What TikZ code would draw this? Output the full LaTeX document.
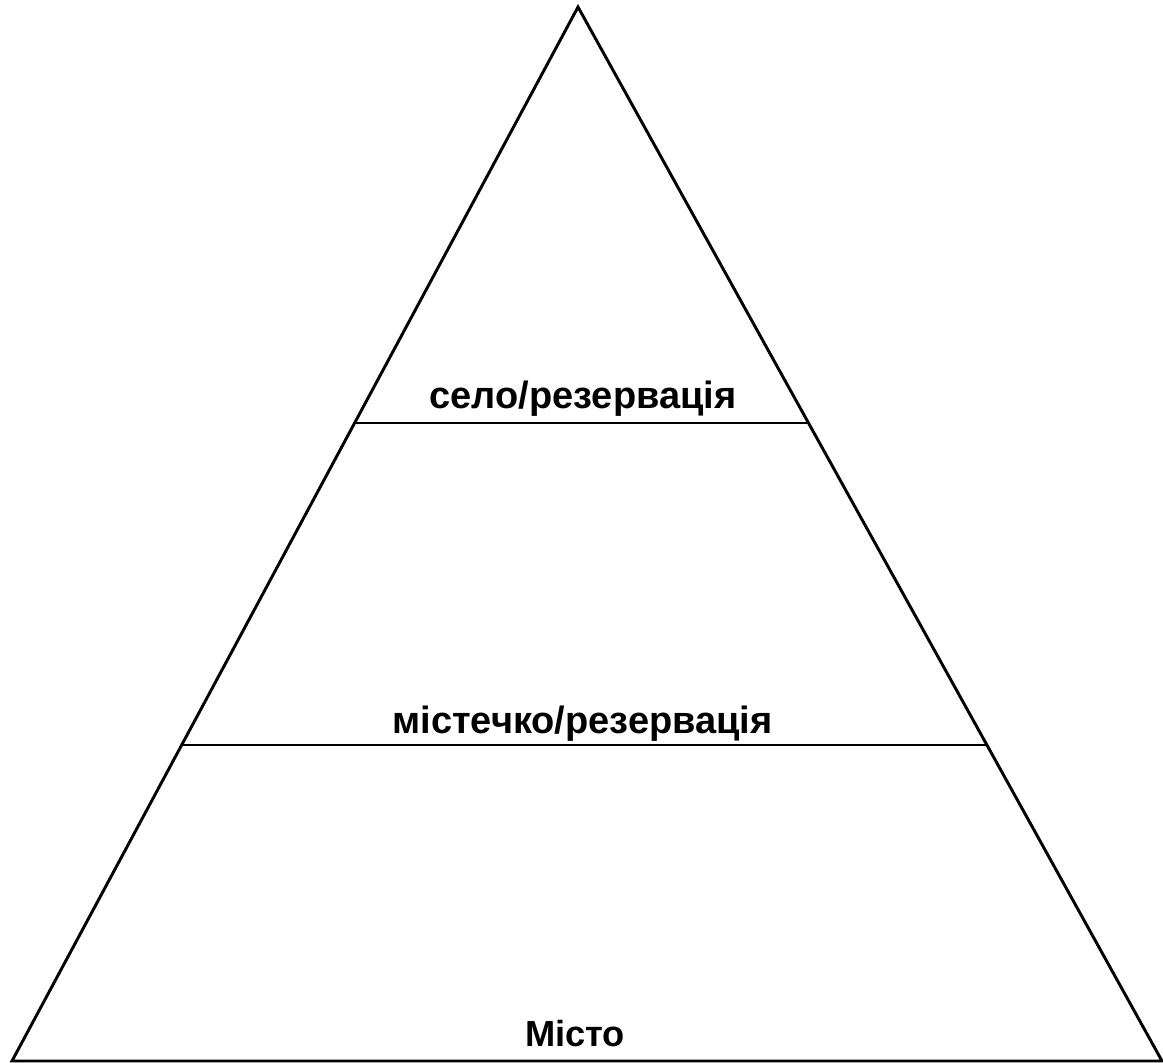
\documentclass[tikz,border=0pt]{standalone}
\usepackage{fontspec}
\setmainfont{Liberation Sans}
\usetikzlibrary{calc}
\begin{document}
\begin{tikzpicture}[x=0.75pt,y=-0.75pt,
  edge/.style={line width=2.2pt,line join=miter},
  band/.style={line width=1.9pt},
  lbl/.style={anchor=base,inner sep=0pt}]
\useasboundingbox (0,0) rectangle (1163,1063);
\coordinate (A) at (578,7);
\coordinate (L) at (12,1061);
\coordinate (R) at (1162,1061);
\draw[edge] (L) -- (A) -- (R) -- cycle;
\coordinate (l1) at ($(A)!0.3947!(L)$);
\coordinate (r1) at ($(A)!0.3947!(R)$);
\coordinate (l2) at ($(A)!0.7002!(L)$);
\coordinate (r2) at ($(A)!0.7002!(R)$);
\draw[band] (l1) -- (r1);
\draw[band] (l2) -- (r2);
\node[lbl,font=\fontsize{28.5}{30}\selectfont\bfseries] (t1) at (583,408) {село/резервація};
\node[lbl,font=\fontsize{28.5}{30}\selectfont\bfseries] (t2) at (582.5,733) {містечко/резервація};
\node[lbl,font=\fontsize{27.2}{29}\selectfont\bfseries] (t3) at (575,1046.5) {Місто};
\end{tikzpicture}
\end{document}
